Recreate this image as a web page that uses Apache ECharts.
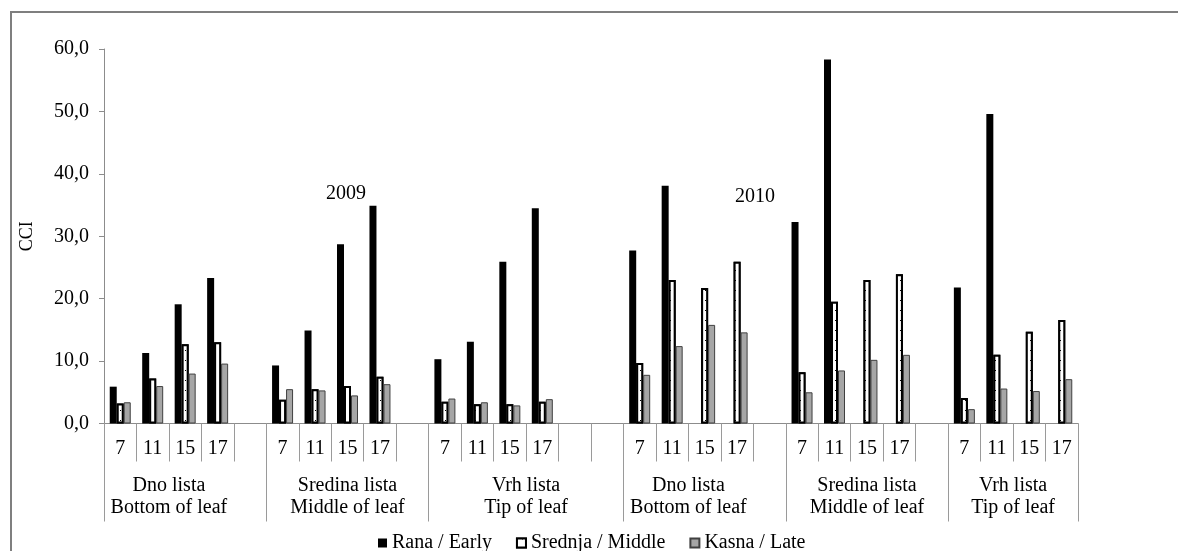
<!DOCTYPE html>
<html lang="en">
<head>
    <meta charset="UTF-8">
    <title>CCI 2009 - 2010</title>
    <script src="https://cdn.jsdelivr.net/npm/echarts@6/dist/echarts.min.js"></script>
    <style>
        html, body { margin: 0; padding: 0; background: #fff; }
        #main { width: 1178px; height: 551px; }
    </style>
</head>
<body>
<div id="main"></div>
<script type="text/javascript">
    // sub categories inside every leaf part
    var ticks = ['7', '11', '15', '17'];
    var parts = ['Dno lista\nBottom of leaf', 'Sredina lista\nMiddle of leaf', 'Vrh lista\nTip of leaf'];
    var years = ['2009', '2010'];
    var seriesNames = ['Rana / Early', 'Srednja / Middle', 'Kasna / Late'];

    // order: Dno 7,11,15,17 | Sredina 7,11,15,17 | Vrh 7,11,15,17
    var early2009  = [5.9, 11.3, 19.1, 23.3,  9.3, 14.9, 28.7, 34.9,  10.3, 13.1, 25.9, 34.5];
    var middle2009 = [3.2,  7.2, 12.7, 13.0,  3.8,  5.5,  6.0,  7.5,   3.5,  3.1,  3.1,  3.5];
    var late2009   = [3.4,  6.0,  8.0,  9.6,  5.5,  5.3,  4.5,  6.3,   4.0,  3.4,  2.9,  3.9];

    var early2010  = [27.7, 38.1, null, null,  32.3, 58.3, null, null,  21.8, 49.6, null, null];
    var middle2010 = [ 9.7, 23.0, 21.7, 25.9,   8.2, 19.5, 23.0, 23.9,   4.1, 11.0, 14.7, 16.6];
    var late2010   = [ 7.8, 12.4, 15.8, 14.6,   5.0,  8.5, 10.2, 11.0,   2.3,  5.6,  5.2,  7.1];

    // where the part names sit on the bottom axis (in category slots)
    var partPos = [2, 7.5, 13, 18, 23.5, 28];

    var FONT = 'Liberation Serif';

    // build the slots: every part is 4 bars then an empty slot
    var cats = [], early = [], middle = [], late = [], groupStart = [];
    function addPart(e, m, l, p) {
        groupStart.push(cats.length);
        for (var k = 0; k < ticks.length; k++) {
            cats.push(ticks[k]);
            early.push(e[p * 4 + k]);
            middle.push(m[p * 4 + k]);
            late.push(l[p * 4 + k]);
        }
    }
    function addGap() {
        cats.push('');
        early.push(null);
        middle.push(null);
        late.push(null);
    }
    for (var p = 0; p < 3; p++) {
        addPart(early2009, middle2009, late2009, p);
        addGap();
    }
    addGap();
    for (var p = 0; p < 3; p++) {
        addPart(early2010, middle2010, late2010, p);
        if (p < 2) addGap();
    }

    var myChart = echarts.init(document.getElementById('main'));

    option = {
        animation: false,
        textStyle: { fontFamily: FONT },
        grid: { left: 104, right: 100, top: 49, bottom: 127.5 },
        legend: {
            data: seriesNames,
            icon: 'rect',
            left: 373,
            top: 528,
            itemWidth: 9,
            itemHeight: 9,
            itemGap: 24,
            textStyle: { fontFamily: FONT, fontSize: 20, color: '#000' }
        },
        xAxis: [
            {
                type: 'category',
                position: 'bottom',
                data: cats,
                axisLine: { lineStyle: { color: '#8c8c8c', width: 1 } },
                axisTick: { show: true, interval: 0, length: 38, lineStyle: { color: '#9a9a9a' } },
                axisLabel: { interval: 0, margin: 15, fontFamily: FONT, fontSize: 20, color: '#000' }
            },
            {
                // long separators between the parts
                type: 'category',
                position: 'bottom',
                data: cats,
                axisLine: { show: false },
                axisTick: {
                    show: true,
                    length: 98,
                    interval: function (index) { return groupStart.indexOf(index) >= 0; },
                    lineStyle: { color: '#9a9a9a' }
                },
                axisLabel: { show: false }
            },
            {
                // part names
                type: 'value',
                position: 'bottom',
                min: 0,
                max: cats.length,
                interval: 0.5,
                axisLine: { show: false },
                axisTick: { show: false },
                splitLine: { show: false },
                axisLabel: {
                    margin: 51,
                    showMinLabel: true,
                    showMaxLabel: true,
                    fontFamily: FONT,
                    fontSize: 20,
                    lineHeight: 22,
                    color: '#000',
                    formatter: function (v) {
                        var i = partPos.indexOf(Math.round(v * 2) / 2);
                        return i >= 0 ? parts[i % 3] : '';
                    }
                }
            }
        ],
        yAxis: {
            type: 'value',
            min: 0,
            max: 60,
            interval: 10,
            name: 'CCI',
            nameLocation: 'middle',
            nameGap: 68,
            nameRotate: 90,
            nameTextStyle: { fontFamily: FONT, fontSize: 18, color: '#000' },
            axisLine: { show: true, onZero: false, lineStyle: { color: '#8c8c8c' } },
            axisTick: { show: true, length: 5, lineStyle: { color: '#8c8c8c' } },
            splitLine: { show: false },
            axisLabel: {
                margin: 15,
                fontFamily: FONT,
                fontSize: 20,
                color: '#000',
                formatter: function (v) { return v.toFixed(1).replace('.', ','); }
            }
        },
        graphic: [
            {
                type: 'rect',
                silent: true,
                shape: { x: 11, y: 12, width: 1400, height: 800 },
                style: { fill: 'none', stroke: '#7f7f7f', lineWidth: 2 }
            },
            {
                type: 'text',
                x: 346, y: 194,
                style: { text: years[0], font: '20px "Liberation Serif"', fill: '#000', align: 'center', verticalAlign: 'middle', textAlign: 'center', textVerticalAlign: 'middle' }
            },
            {
                type: 'text',
                x: 755, y: 197,
                style: { text: years[1], font: '20px "Liberation Serif"', fill: '#000', align: 'center', verticalAlign: 'middle', textAlign: 'center', textVerticalAlign: 'middle' }
            }
        ],
        series: [
            {
                name: seriesNames[0],
                type: 'bar',
                barWidth: 7,
                barGap: '0%',
                itemStyle: { color: '#000' },
                data: early
            },
            {
                name: seriesNames[1],
                type: 'bar',
                barWidth: 7,
                barGap: '0%',
                itemStyle: {
                    color: '#fff',
                    borderColor: '#000',
                    borderWidth: 2,
                    decal: {
                        symbol: 'rect',
                        symbolSize: 1,
                        color: '#000',
                        backgroundColor: '#fff',
                        dashArrayX: [1, 4],
                        dashArrayY: [1, 9],
                        rotation: 0
                    }
                },
                data: middle
            },
            {
                name: seriesNames[2],
                type: 'bar',
                barWidth: 7,
                barGap: '0%',
                itemStyle: { color: '#a6a6a6', borderColor: '#404040', borderWidth: 1 },
                data: late
            }
        ]
    };

    myChart.setOption(option);
</script>
</body>
</html>
